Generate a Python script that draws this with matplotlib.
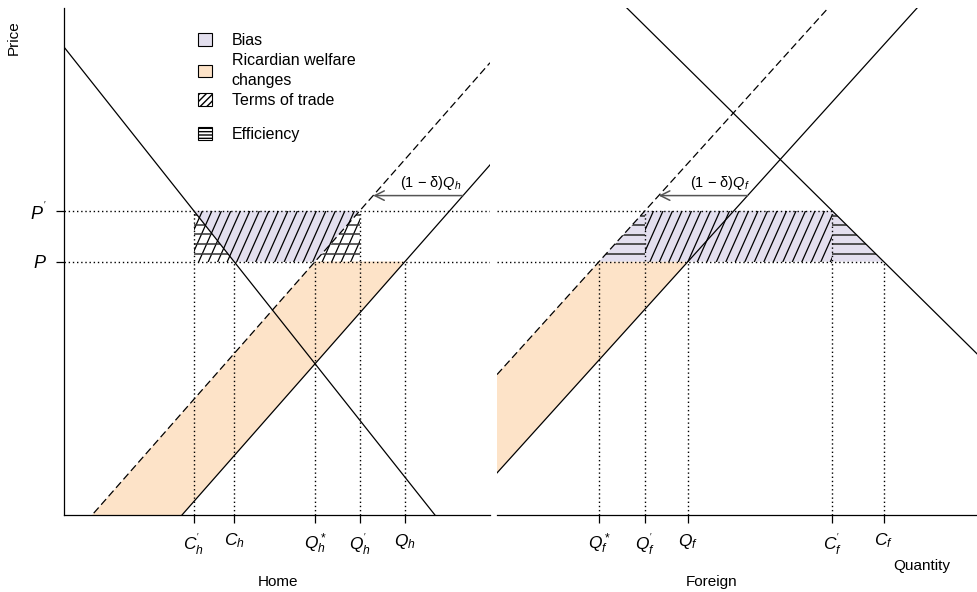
import numpy as np
import matplotlib.pyplot as plt
from matplotlib.patches import Patch, Polygon

plt.rcParams["font.family"] = ["Liberation Sans", "DejaVu Sans"]
plt.rcParams["mathtext.fontset"] = "custom"
plt.rcParams["mathtext.it"] = "Liberation Sans:italic"
plt.rcParams["mathtext.rm"] = "Liberation Sans"

# price levels (axis units 0..100)
p_low = 50.0    # P
p_high = 60.0   # P'
arrow_p = 63.0  # height of the (1-delta)Q arrows

# lines as (intercept, slope): price = a + b * quantity
home_demand = (92.3, -1.06)
home_supply = (-26.45, 0.955)
home_supply_shift = (-6.3, 0.955)

foreign_demand = (125.3, -0.937)
foreign_supply = (8.3, 1.05)
foreign_supply_shift = (27.7, 1.05)

home_ticks = [r"$C_h^{'}$", r"$C_h$", r"$Q_h^*$", r"$Q_h^{'}$", r"$Q_h$"]
foreign_ticks = [r"$Q_f^*$", r"$Q_f^{'}$", r"$Q_f$", r"$C_f^{'}$", r"$C_f$"]
legend_labels = ["Bias", "Ricardian welfare\nchanges", "Terms of trade", "Efficiency"]

lavender = "#E3DFEE"
peach = "#FDE3C8"


def q_at(line, p):
    a, b = line
    return (p - a) / b


def draw_line(ax, line, **kw):
    x = np.linspace(0, 100, 400)
    a, b = line
    ax.plot(x, a + b * x, **kw)


def hatch(ax, verts, angle, spacing, color, lw):
    verts = np.asarray(verts, float)
    clip = Polygon(verts, closed=True, facecolor="none", edgecolor="none")
    ax.add_patch(clip)
    disp = ax.transData.transform(verts)
    x0, y0 = disp.min(0)
    x1, y1 = disp.max(0)
    inv = ax.transData.inverted()
    segs = []
    if angle == 0:
        for y in np.arange(y0 + spacing * 0.8, y1, spacing):
            segs.append([(x0 - 2, y), (x1 + 2, y)])
    else:
        t = np.tan(np.radians(angle))
        run = (y1 - y0 + 4) / t
        for xs in np.arange(x0 - run - spacing, x1 + spacing, spacing):
            segs.append([(xs, y0 - 2), (xs + run, y1 + 2)])
    for s in segs:
        d = inv.transform(np.array(s))
        ln, = ax.plot(d[:, 0], d[:, 1], color=color, lw=lw, solid_capstyle="butt")
        ln.set_clip_path(clip)


fig = plt.figure(figsize=(9.78, 5.92), dpi=100)
ax1 = fig.add_axes([64 / 978, 77 / 592, 426 / 978, 507 / 592])
ax2 = fig.add_axes([497 / 978, 77 / 592, 481 / 978, 507 / 592])
for ax in (ax1, ax2):
    ax.set_xlim(0, 100)
    ax.set_ylim(0, 100)
    ax.spines["top"].set_visible(False)
    ax.spines["right"].set_visible(False)
    ax.spines["bottom"].set_linewidth(0.9)
    ax.spines["left"].set_linewidth(0.9)
ax2.spines["left"].set_visible(False)

dot = dict(color="black", lw=1.0, ls=(0, (1, 2)))

# ---------------- Home ----------------
ch1 = q_at(home_demand, p_high)
ch = q_at(home_demand, p_low)
qh_star = q_at(home_supply_shift, p_low)
qh1 = q_at(home_supply_shift, p_high)
qh = q_at(home_supply, p_low)

ax1.fill([q_at(home_supply_shift, 0), q_at(home_supply, 0), qh, qh_star],
         [0, 0, p_low, p_low], color=peach, lw=0)
ax1.fill([ch1, qh1, qh_star, ch], [p_high, p_high, p_low, p_low], color=lavender, lw=0)
hatch(ax1, [(ch1, p_low), (qh1, p_low), (qh1, p_high), (ch1, p_high)], 66, 9.5, "black", 0.9)
hatch(ax1, [(ch1, p_high), (ch1, p_low), (ch, p_low)], 0, 9.7, "#333333", 1.1)
hatch(ax1, [(qh_star, p_low), (qh1, p_low), (qh1, p_high)], 0, 9.7, "#333333", 1.1)

ax1.plot([0, 100], [p_high, p_high], **dot)
ax1.plot([0, 100], [p_low, p_low], **dot)
for q, p in [(ch1, p_high), (ch, p_low), (qh_star, p_low), (qh1, p_high), (qh, p_low)]:
    ax1.plot([q, q], [0, p], **dot)

draw_line(ax1, home_demand, color="black", lw=0.9)
draw_line(ax1, home_supply, color="black", lw=0.9)
draw_line(ax1, home_supply_shift, color="black", lw=0.9, ls=(0, (6, 3)))

tail = q_at(home_supply, arrow_p)
ax1.annotate("", xy=(q_at(home_supply_shift, arrow_p), arrow_p), xytext=(tail, arrow_p),
             arrowprops=dict(arrowstyle="->", color="#555555", lw=1.1, mutation_scale=17,
                             shrinkA=0, shrinkB=0))
ax1.text(tail - 0.3, arrow_p + 0.8, "(1 \u2212 \u03b4)$Q_h$", ha="right", va="bottom", fontsize=10.5)

ax1.set_xticks([ch1, ch, qh_star, qh1, qh])
ax1.set_xticklabels(home_ticks, fontsize=12.5)
ax1.set_yticks([p_low, p_high])
ax1.set_yticklabels([r"$P$", r"$P^{'}$"], fontsize=13)
ax1.tick_params(axis="both", length=6, width=0.9, pad=6)

leg_handles = [
    Patch(facecolor=lavender, edgecolor="black", lw=0.8),
    Patch(facecolor=peach, edgecolor="black", lw=0.8),
    Patch(facecolor="white", edgecolor="black", lw=0.8, hatch="/////"),
    Patch(facecolor="white", edgecolor="black", lw=0.8, hatch="-----"),
]
leg_kw = dict(loc="upper left", bbox_transform=fig.transFigure, frameon=False, fontsize=11.5,
              handlelength=0.85, handleheight=0.85, handletextpad=1.25, labelspacing=0.3,
              borderpad=0, borderaxespad=0)
leg1 = ax1.legend(leg_handles[:3], legend_labels[:3], bbox_to_anchor=(198 / 978, 1 - 33 / 592), **leg_kw)
for t in leg1.get_texts():
    t.set_linespacing(1.45)
ax1.add_artist(leg1)
ax1.legend(leg_handles[3:], legend_labels[3:], bbox_to_anchor=(198 / 978, 1 - 127 / 592), **leg_kw)

# ---------------- Foreign ----------------
qf_star = q_at(foreign_supply_shift, p_low)
qf1 = q_at(foreign_supply_shift, p_high)
qf = q_at(foreign_supply, p_low)
cf1 = q_at(foreign_demand, p_high)
cf = q_at(foreign_demand, p_low)

ax2.fill([0, qf_star, qf, 0], [foreign_supply_shift[0], p_low, p_low, foreign_supply[0]],
         color=peach, lw=0)
ax2.fill([qf1, cf1, cf, qf_star], [p_high, p_high, p_low, p_low], color=lavender, lw=0)
hatch(ax2, [(qf1, p_low), (cf1, p_low), (cf1, p_high), (qf1, p_high)], 66, 9.5, "black", 0.9)
hatch(ax2, [(qf_star, p_low), (qf1, p_low), (qf1, p_high)], 0, 9.5, "#444444", 1.3)
hatch(ax2, [(cf1, p_high), (cf1, p_low), (cf, p_low)], 0, 9.5, "#444444", 1.3)

ax2.plot([0, cf1], [p_high, p_high], **dot)
ax2.plot([0, cf], [p_low, p_low], **dot)
for q, p in [(qf_star, p_low), (qf1, p_high), (qf, p_low), (cf1, p_high), (cf, p_low)]:
    ax2.plot([q, q], [0, p], **dot)

draw_line(ax2, foreign_demand, color="black", lw=0.9)
draw_line(ax2, foreign_supply, color="black", lw=0.9)
draw_line(ax2, foreign_supply_shift, color="black", lw=0.9, ls=(0, (6, 3)))

tail = q_at(foreign_supply, arrow_p)
ax2.annotate("", xy=(q_at(foreign_supply_shift, arrow_p), arrow_p), xytext=(tail, arrow_p),
             arrowprops=dict(arrowstyle="->", color="#555555", lw=1.1, mutation_scale=17,
                             shrinkA=0, shrinkB=0))
ax2.text(tail + 0.5, arrow_p + 0.8, "(1 \u2212 \u03b4)$Q_f$", ha="right", va="bottom", fontsize=10.5)

ax2.set_xticks([qf_star, qf1, qf, cf1, cf])
ax2.set_xticklabels(foreign_ticks, fontsize=12.5)
ax2.set_yticks([])
ax2.tick_params(axis="x", length=6, width=0.9, pad=6)

fig.text(14 / 978, 1 - 38 / 592, "Price", rotation=90, ha="center", va="center", fontsize=11)
fig.text(278 / 978, 1 - 582 / 592, "Home", ha="center", va="center", fontsize=11)
fig.text(712 / 978, 1 - 582 / 592, "Foreign", ha="center", va="center", fontsize=11)
fig.text(922 / 978, 1 - 566 / 592, "Quantity", ha="center", va="center", fontsize=11)

fig.savefig("out.png", dpi=100)
